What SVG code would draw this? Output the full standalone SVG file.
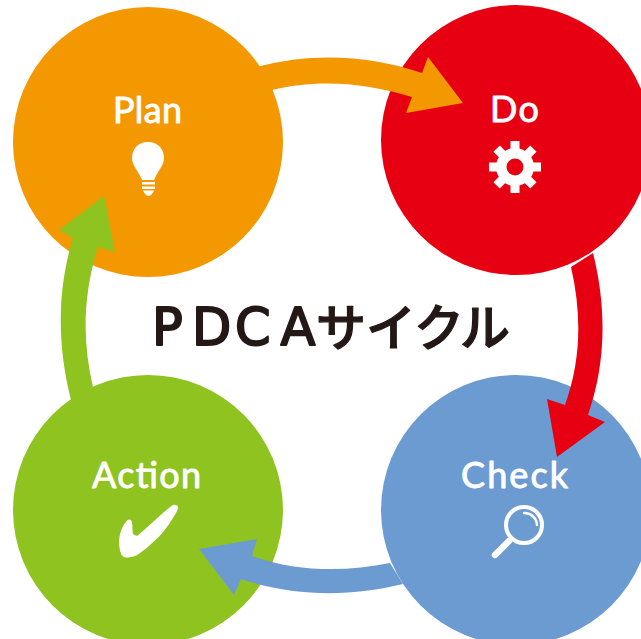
<svg xmlns="http://www.w3.org/2000/svg" width="641" height="639" viewBox="0 0 641 639">
<style>
.lbl{font-family:"Lato","Noto Sans",sans-serif;font-size:36px;fill:#fff;stroke:#fff;stroke-width:.9;stroke-linejoin:round}
.ttl{font-family:"Noto Sans CJK JP","Noto Sans",sans-serif;font-size:50px;font-weight:500;fill:#231815;stroke:#231815;stroke-width:1.200;stroke-linejoin:round}
.lat{font-family:"DejaVu Sans",sans-serif;font-size:51px;fill:#231815;stroke:#231815;stroke-width:2;stroke-linejoin:round}
.w{fill:#fff}
</style>
<rect width="641" height="639" fill="#fff"/>
<g id="node-plan">
<circle cx="148" cy="142" r="135" fill="#f39800"/>
<text class="lbl" x="113" y="123" textLength="69">Plan</text>
<path class="w" d="M148 142C137 142 132 150 132 158C132 166 138 170 142 180L154 180C158 170 164 166 164 158C164 150 159 142 148 142Z"/>
<path class="w" d="M142 182H155V184.500H142ZM142 186.500H155V189H142ZM143 190.500H154C153 194 150 196 148.500 196C147 196 144 194 143 190.500Z"/>
</g>
<g id="node-do">
<circle cx="516" cy="140" r="135" fill="#e60012"/>
<text class="lbl" x="490" y="122" textLength="49">Do</text>
<g transform="translate(515 167)" class="w">
<circle r="19"/>
<rect x="-4.500" y="-26" width="9" height="52"/>
<rect x="-26" y="-4.500" width="52" height="9"/>
<rect x="-4.500" y="-26" width="9" height="52" transform="rotate(45)"/>
<rect x="-26" y="-4.500" width="52" height="9" transform="rotate(45)"/>
<circle r="8.500" fill="#e60012"/>
</g>
</g>
<g id="node-check">
<circle cx="516" cy="510" r="135" fill="#6c9bd2"/>
<text class="lbl" x="461" y="488" textLength="107">Check</text>
<g fill="none" stroke="#fff" stroke-linecap="round">
<circle cx="524" cy="525" r="18" stroke-width="4"/>
<path d="M509 541L495 555" stroke-width="6.500"/>
<path d="M524 513A12.500 12.500 0 0 1 537 525" stroke-width="2.500"/>
</g>
</g>
<g id="node-action">
<circle cx="148" cy="510" r="135" fill="#8fc31f"/>
<text class="lbl" x="92" y="488" textLength="109">Action</text>
<path class="w" stroke="#fff" stroke-width="2" stroke-linejoin="round" d="M177 507.500C177 510 175 513 173 516C167 526 161 534 155 539C149 545 143 550 137 554C132 556.500 126 557 124 556C121 554 120 549 120 540C121 532 123 526 128 521C130 520 131 521 131 523C132 527 131 531 132 534C133 536 136 537 138 536.500C149 528 161 515 173 506C175 505.500 177 506 177 507.500Z"/>
</g>
<g id="connectors">
<path fill="#f39800" d="M257 67C312 52 370 55 422 73L428 57L463 103L406 113L412 97C365 82 315 79 272 90Z"/>
<path fill="#e60012" d="M593 253C606 305 607 360 588 415L605 422L557 457L547 399L565 405C581 360 582 315 571 267Z"/>
<path fill="#6c9bd2" d="M390 563C345 572 297 572 252 556L257 539L199 549L234 595L241 579C295 597 350 597 403 584Z"/>
<path fill="#8fc31f" d="M71 400C57 345 57 290 73 238L59 230L104 196L115 252L98 247C83 295 82 340 93 387Z"/>
</g>
<g id="title">
<text class="lat" x="152 192 235 280.500" y="345">PDCA</text>
<text class="ttl" x="316 366 414 460" y="346">サイクル</text>
</g>
</svg>
